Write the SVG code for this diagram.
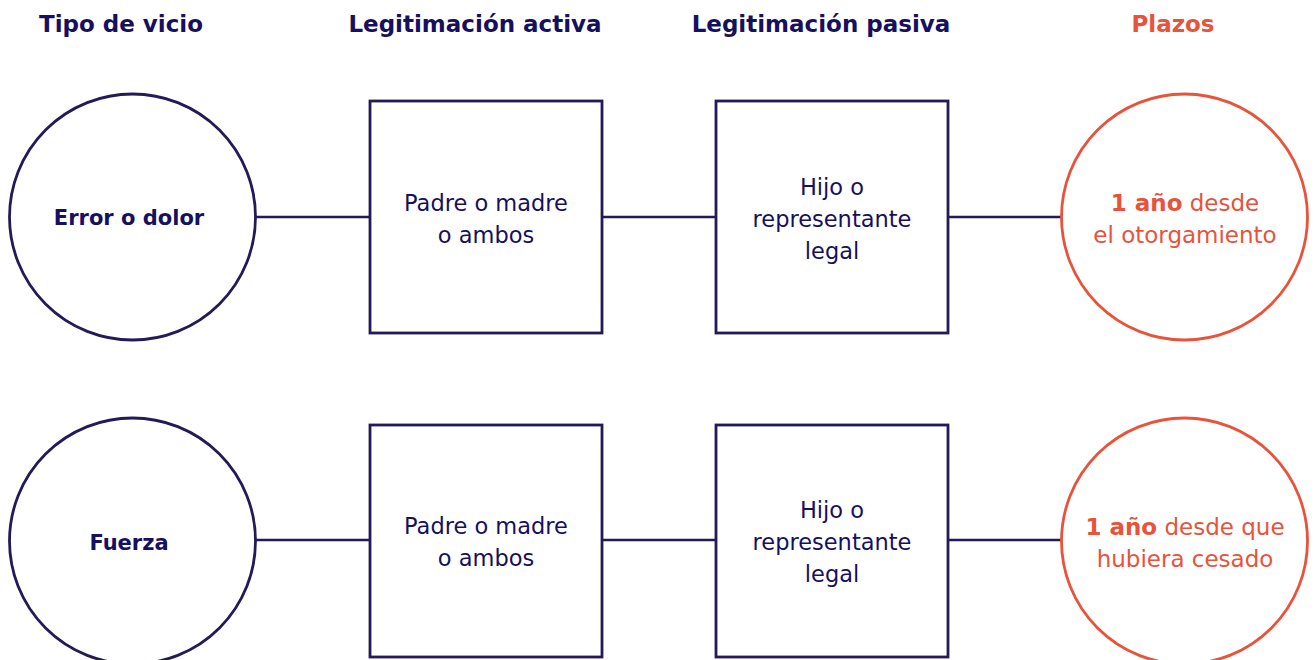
<svg xmlns="http://www.w3.org/2000/svg" width="1315" height="660" viewBox="0 0 1315 660">
<style>
.hd{font-family:"DejaVu Sans",sans-serif;font-weight:bold;font-size:23px;fill:#16105e;text-anchor:middle}
.or{fill:#e8533b}
.nv{fill:none;stroke:#231b57;stroke-width:2.8}
.on{fill:none;stroke:#e8533b;stroke-width:2.8}
.t{font-family:"DejaVu Sans",sans-serif;font-size:22.5px;fill:#16105e;text-anchor:middle}
.tb{font-family:"DejaVu Sans",sans-serif;font-size:21px;font-weight:bold;fill:#16105e;text-anchor:middle}
.to{font-family:"DejaVu Sans",sans-serif;font-size:23px;fill:#e8533b;text-anchor:middle}
.b{font-weight:bold}
.ln{stroke:#231b57;stroke-width:2.6;fill:none}
</style>
<rect width="1315" height="660" fill="#ffffff"/>
<g id="headers">
<text class="hd" x="121" y="32">Tipo de vicio</text>
<text class="hd" x="475" y="32">Legitimación activa</text>
<text class="hd" x="821" y="32">Legitimación pasiva</text>
<text class="hd or" x="1173" y="32">Plazos</text>
</g>
<g id="connectors">
<line class="ln" x1="256" y1="217" x2="370" y2="217"/>
<line class="ln" x1="602" y1="217" x2="716" y2="217"/>
<line class="ln" x1="948" y1="217" x2="1061" y2="217"/>
<line class="ln" x1="256" y1="540" x2="370" y2="540"/>
<line class="ln" x1="602" y1="540" x2="716" y2="540"/>
<line class="ln" x1="948" y1="540" x2="1061" y2="540"/>
</g>
<g id="vicio1">
<circle class="nv" cx="132.5" cy="217" r="123"/>
<text class="tb" x="129" y="225">Error o dolor</text>
</g>
<g id="activa1">
<rect class="nv" x="370" y="101" width="232" height="232"/>
<text class="t" x="486" y="211">Padre o madre</text>
<text class="t" x="486" y="243">o ambos</text>
</g>
<g id="pasiva1">
<rect class="nv" x="716" y="101" width="232" height="232"/>
<text class="t" x="832" y="195">Hijo o</text>
<text class="t" x="832" y="227">representante</text>
<text class="t" x="832" y="259">legal</text>
</g>
<g id="plazo1">
<circle class="on" cx="1184.5" cy="217" r="123"/>
<text class="to" x="1185" y="211"><tspan class="b">1 año</tspan> desde</text>
<text class="to" x="1185" y="243">el otorgamiento</text>
</g>
<g id="vicio2">
<circle class="nv" cx="132.5" cy="541" r="123"/>
<text class="tb" x="129" y="550">Fuerza</text>
</g>
<g id="activa2">
<rect class="nv" x="370" y="425" width="232" height="232"/>
<text class="t" x="486" y="534">Padre o madre</text>
<text class="t" x="486" y="566">o ambos</text>
</g>
<g id="pasiva2">
<rect class="nv" x="716" y="425" width="232" height="232"/>
<text class="t" x="832" y="518">Hijo o</text>
<text class="t" x="832" y="550">representante</text>
<text class="t" x="832" y="582">legal</text>
</g>
<g id="plazo2">
<circle class="on" cx="1184.5" cy="541" r="123"/>
<text class="to" x="1185" y="535"><tspan class="b">1 año</tspan> desde que</text>
<text class="to" x="1185" y="567">hubiera cesado</text>
</g>
</svg>
